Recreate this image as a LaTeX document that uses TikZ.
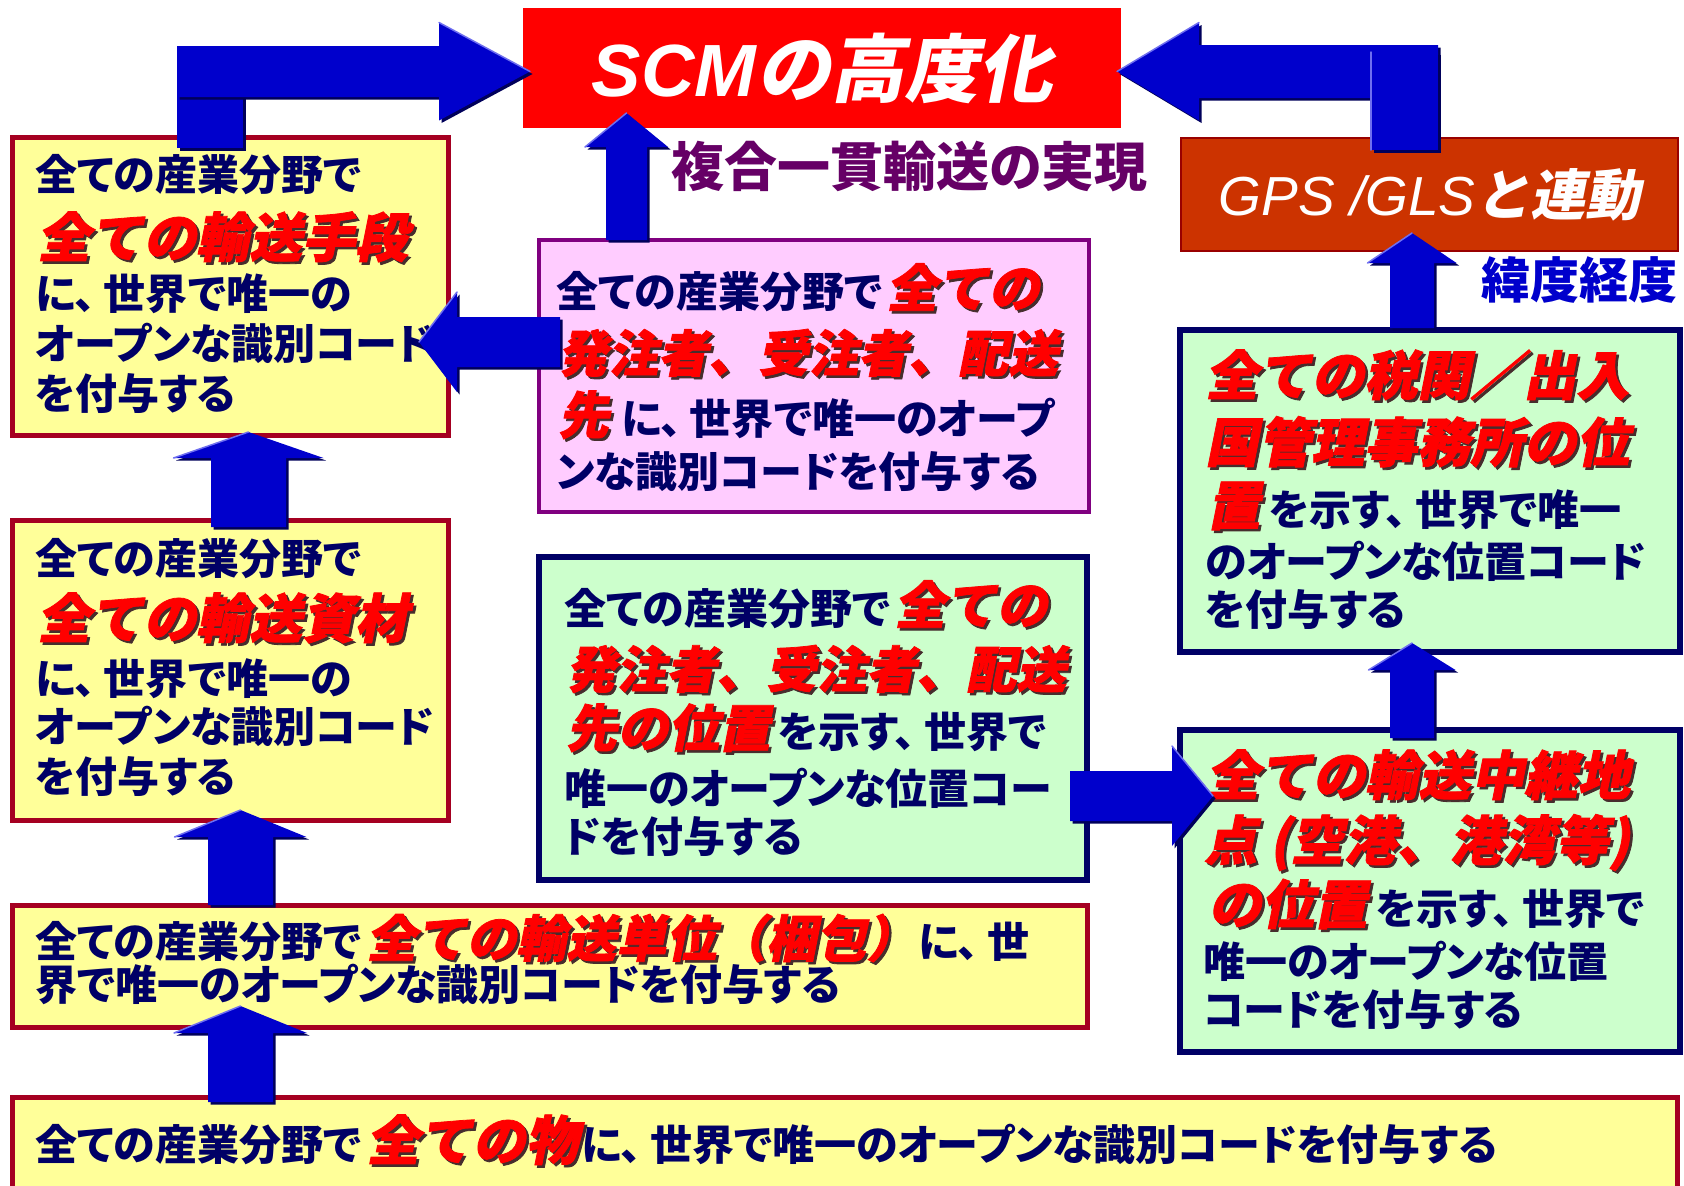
\documentclass[tikz,border=0pt]{standalone}
\usepackage{fontspec}
\setmainfont{Noto Sans CJK JP}[RawFeature=+palt]
\newfontfamily\redfnt{Noto Sans CJK JP}[FakeSlant=0.2,FakeBold=1.5]
\newfontfamily\ttlfnt{Noto Sans CJK JP}[FakeSlant=0.2]
\newfontfamily\latfnt{Liberation Sans}
\usetikzlibrary{calc}
\definecolor{cNavy}{RGB}{0,0,102}
\definecolor{cRed}{RGB}{255,0,0}
\definecolor{cShadow}{RGB}{70,45,45}
\definecolor{cYel}{RGB}{255,255,153}
\definecolor{cCrim}{RGB}{165,0,33}
\definecolor{cPink}{RGB}{255,204,255}
\definecolor{cPurp}{RGB}{128,0,128}
\definecolor{cGreen}{RGB}{204,255,204}
\definecolor{cArrow}{RGB}{0,0,204}
\definecolor{cArrowSh}{RGB}{0,0,90}
\definecolor{cArrowHi}{RGB}{110,110,240}
\definecolor{cGps}{RGB}{204,51,0}
\definecolor{cGpsB}{RGB}{153,0,0}
\definecolor{cLbl}{RGB}{102,0,102}
\newcommand\rem[2][52]{{\redfnt\bfseries\fontsize{#1}{#1}\selectfont\rlap{\kern2.5pt\raisebox{-2.5pt}{\color{cShadow}#2}}\textcolor{cRed}{#2}}}
\newcommand\tc{、\kern0.2em}
\newcommand\blkshape[1]{\fill[arrshadow,transform canvas={shift={(2.5pt,-2.5pt)}}] #1; \fill[arrfill] #1;}
\newcommand\blkup[8]{%
  \path (#1 -| #3) ++(0,#4) coordinate (bb) (#2 -| #3) ++(0,#5) coordinate (bt);
  \blkshape{($(bb)+(-#6,0)$) -- ($(bt)+(-#6,#8)$) -- ($(bt)+(-#7,#8)$) -- (bt) -- ($(bt)+(#7,#8)$) -- ($(bt)+(#6,#8)$) -- ($(bb)+(#6,0)$) -- cycle}
  \draw[arrhi] ($(bt)+(-#7,#8)$) -- (bt);}
\newcommand\blkh[8]{%
  \path (#1 |- #3) ++(#4,0) coordinate (bb) (#2 |- #3) ++(#5,0) coordinate (bt);
  \blkshape{($(bb)+(0,-#6)$) -- ($(bt)+(#8,-#6)$) -- ($(bt)+(#8,-#7)$) -- (bt) -- ($(bt)+(#8,#7)$) -- ($(bt)+(#8,#6)$) -- ($(bb)+(0,#6)$) -- cycle}
  \draw[arrhi] ($(bt)+(#8,-#7)$) -- (bt);}
\tikzset{
  arrfill/.style={fill=cArrow},
  arrshadow/.style={fill=cArrowSh},
  arrhi/.style={draw=cArrowHi, line width=1.5pt, line cap=round},
  ybox/.style={draw=cCrim, line width=5pt, fill=cYel, inner sep=0pt, outer sep=0pt},
  pbox/.style={draw=cPurp, line width=4.5pt, fill=cPink, inner sep=0pt, outer sep=0pt},
  gbox/.style={draw=cNavy, line width=6pt, fill=cGreen, inner sep=0pt, outer sep=0pt},
  body/.style={anchor=base west, inner sep=0pt, text=cNavy, font=\bfseries\fontsize{42}{50}\selectfont},
}
\begin{document}
\begin{tikzpicture}[x=1pt,y=-1pt]
\useasboundingbox (0,0) rectangle (1684,1186);
\fill[white] (0,0) rectangle (1684,1186);
% boxes
\node[fill=cRed, inner sep=0pt, outer sep=0pt, minimum width=598pt, minimum height=120pt, text=white] (scm) at (822,68)
  {\fontsize{74}{74}\selectfont{\latfnt\bfseries\itshape SCM}{\ttlfnt\bfseries の高度化}};
\node[fill=cGps, draw=cGpsB, line width=2.5pt, inner sep=0pt, outer sep=0pt, minimum width=497pt, minimum height=113pt, text=white] (gps) at (1429.5,194.5)
  {\fontsize{55}{55}\selectfont{\latfnt\itshape GPS /GLS}{\ttlfnt\bfseries と連動}};
\node[ybox, minimum width=436pt, minimum height=298pt] (A) at (230,286) {};
\node[ybox, minimum width=436pt, minimum height=300pt] (B) at (230,670) {};
\node[pbox, minimum width=550pt, minimum height=272pt] (C) at (814,376) {};
\node[gbox, minimum width=548pt, minimum height=323pt] (D) at (813,718.5) {};
\node[gbox, minimum width=500pt, minimum height=322pt] (E) at (1430,491) {};
\node[gbox, minimum width=500pt, minimum height=322pt] (F) at (1430,891) {};
\node[ybox, minimum width=1075pt, minimum height=122pt] (G) at (549.5,966) {};
\node[ybox, minimum width=1665pt, minimum height=95pt] (H) at (844.5,1144.5) {};
% labels
\node[anchor=base west, inner sep=0pt, text=cLbl, font=\bfseries\fontsize{53}{53}\selectfont] (lbl1) at (671,186) {複合一貫輸送の実現};
\node[anchor=base west, inner sep=0pt, text=cArrow, font=\bfseries\fontsize{49}{49}\selectfont] (lbl2) at (1481,298) {緯度経度};
% text box A
\node[body] (a1) at (35,190) {全ての産業分野で};
\node[body] (a2) at (37,257) {\rem[53]{全ての輸送手段}};
\node[body] (a3) at (35,309) {に\tc 世界で唯一の};
\node[body] (a4) at (35,359) {オープンな識別コード};
\node[body] (a5) at (35,409) {を付与する};
% text box B
\node[body] (b1) at (35,574) {全ての産業分野で};
\node[body] (b2) at (37,638) {\rem[53]{全ての輸送資材}};
\node[body] (b3) at (35,694) {に\tc 世界で唯一の};
\node[body] (b4) at (35,742) {オープンな識別コード};
\node[body] (b5) at (35,792) {を付与する};
% text box C
\node[body] (c1) at (556,307) {全ての産業分野で\hspace{4pt}\rem[51]{全ての}};
\node[body] (c2) at (558,372) {\rem[50]{発注者、受注者、配送}};
\node[body] (c3) at (558,434) {\rem[51]{先}\hspace{12pt}に\tc 世界で唯一のオープ};
\node[body] (c4) at (556,487) {ンな識別コードを付与する};
% text box D
\node[body] (d1) at (564,624) {全ての産業分野で\hspace{4pt}\rem[51]{全ての}};
\node[body] (d2) at (566,688) {\rem[50]{発注者、受注者、配送}};
\node[body] (d3) at (566,747) {\rem[51]{先の位置}\hspace{8pt}を示す\tc 世界で};
\node[body] (d4) at (564,804) {唯一のオープンな位置コー};
\node[body] (d5) at (564,852) {ドを付与する};
% text box E
\node[body] (e1) at (1205,395) {\rem[53]{全ての税関／出入}};
\node[body] (e2) at (1205,462) {\rem[53]{国管理事務所の位}};
\node[body] (e3) at (1207,525) {\rem[53]{置}\hspace{9pt}を示す\tc 世界で唯一};
\node[body] (e4) at (1205,577) {のオープンな位置コード};
\node[body] (e5) at (1205,625) {を付与する};
% text box F
\node[body] (f1) at (1206,795) {\rem[53]{全ての輸送中継地}};
\node[body] (f2) at (1204,860) {\rem[53]{点 (空港、港湾等)}};
\node[body] (f3) at (1208,924) {\rem[53]{の位置}\hspace{9pt}を示す\tc 世界で};
\node[body] (f4) at (1203,977) {唯一のオープンな位置};
\node[body] (f5) at (1203,1025) {コードを付与する};
% text box G
\node[body] (g1) at (35,957) {全ての産業分野で\hspace{5pt}\rem[50]{全ての輸送単位（梱包）}\hspace{2pt}に\tc 世};
\node[body] (g2) at (35,1000) {界で唯一のオープンな識別コードを付与する};
% text box H
\node[body] (h1) at (35,1160) {全ての産業分野で\hspace{5pt}\rem[53]{全ての物}\hspace{3pt}に\tc 世界で唯一のオープンな識別コードを付与する};
% arrows
\coordinate (xAB) at (248.5,0);
\coordinate (xGB) at (240.5,0);
\coordinate (xHG) at (240.5,0);
\coordinate (xCS) at (626.5,0);
\coordinate (xFE) at (1412,0);
\coordinate (yCA) at (0,342);
\coordinate (yDF) at (0,796);
\coordinate (ytop) at (0,71.5);
\coordinate (xAl) at (210,0);
\coordinate (xGr) at (1404.5,0);
\blkup{B.north}{A.south}{xAB}{7}{-3}{37.5}{75}{26}
\blkup{G.north}{B.south}{xGB}{0}{-10}{32.5}{66}{27}
\blkup{H.north}{G.south}{xHG}{5}{-21}{32.5}{66.5}{27}
\blkup{C.north}{scm.south}{xCS}{0}{-15}{20.5}{41.5}{34}
\blkup{F.north}{E.south}{xFE}{8}{-9}{22}{43.5}{27}
\blkup{E.north}{gps.south}{xFE}{-2}{-18}{22}{44.5}{30}
\blkh{C.west}{A.east}{yCA}{21}{-29}{25}{50}{38}
\blkh{D.east}{F.west}{yDF}{-17}{33}{25}{50}{-41}
% bent arrow A -> SCM
\path (A.north -| xAl) ++(0,11) coordinate (sb1) (scm.west |- ytop) ++(7,0) coordinate (tp1) (xAl |- ytop) coordinate (sc1);
\blkshape{($(sb1)+(-33,0)$) rectangle ($(sc1)+(33,0)$)}
\blkshape{($(sc1)+(-33,-25.5)$) -- ($(tp1)+(-91,-25.5)$) -- ($(tp1)+(-91,-49)$) -- (tp1) -- ($(tp1)+(-91,49)$) -- ($(tp1)+(-91,25.5)$) -- ($(sc1)+(-33,25.5)$) -- cycle}
\draw[arrhi] ($(tp1)+(-91,-49)$) -- (tp1);
% bent arrow GPS -> SCM
\path (gps.north -| xGr) ++(0,12) coordinate (sb2) (scm.east |- ytop) ++(-4,0) coordinate (tp2) (xGr |- ytop) coordinate (sc2);
\blkshape{($(sc2)+(33.5,-26.5)$) -- ($(tp2)+(82,-26.5)$) -- ($(tp2)+(82,-49)$) -- (tp2) -- ($(tp2)+(82,49)$) -- ($(tp2)+(82,26.5)$) -- ($(sc2)+(33.5,26.5)$) -- cycle}
\draw[arrhi] ($(tp2)+(82,-49)$) -- (tp2);
\blkshape{($(sb2)+(-33.5,0)$) rectangle ($(sc2)+(33.5,-19.5)$)}
\draw[arrhi] ($(sb2)+(-33.5,0)$) -- ($(sc2)+(-33.5,-19.5)$);
\end{tikzpicture}
\end{document}
